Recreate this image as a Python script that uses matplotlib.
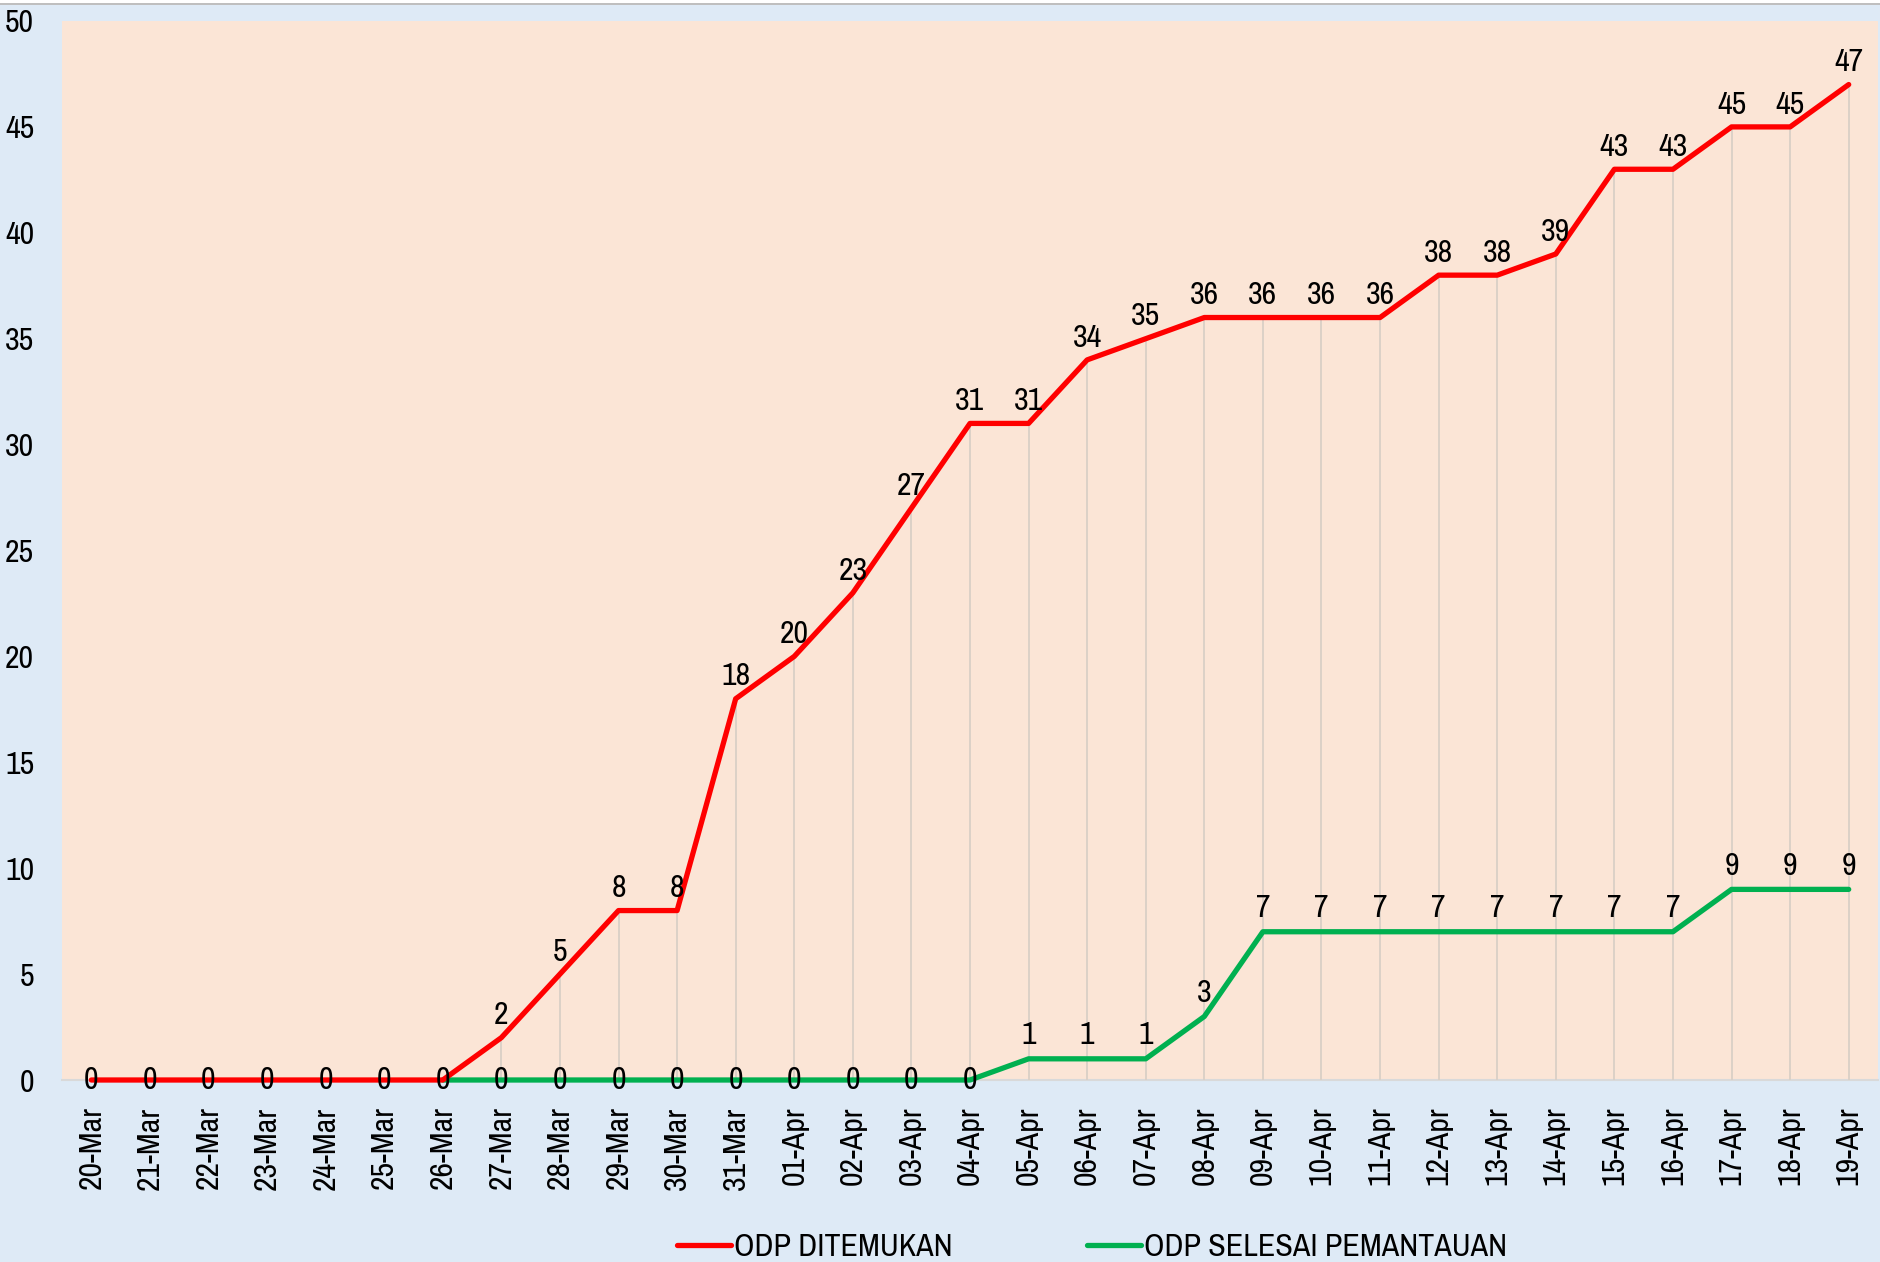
import matplotlib
matplotlib.use("Agg")
import matplotlib.pyplot as plt
import numpy as np
from matplotlib.patches import Rectangle

plt.rcParams['font.family'] = ['Archivo Narrow', 'Roboto Condensed', 'DejaVu Sans']

# tanggal
labels = ['20-Mar', '21-Mar', '22-Mar', '23-Mar', '24-Mar', '25-Mar', '26-Mar', '27-Mar',
          '28-Mar', '29-Mar', '30-Mar', '31-Mar', '01-Apr', '02-Apr', '03-Apr', '04-Apr',
          '05-Apr', '06-Apr', '07-Apr', '08-Apr', '09-Apr', '10-Apr', '11-Apr', '12-Apr',
          '13-Apr', '14-Apr', '15-Apr', '16-Apr', '17-Apr', '18-Apr', '19-Apr']
# ODP ditemukan
ditemukan = [0, 0, 0, 0, 0, 0, 0, 2, 5, 8, 8, 18, 20, 23, 27, 31,
             31, 34, 35, 36, 36, 36, 36, 38, 38, 39, 43, 43, 45, 45, 47]
# ODP selesai pemantauan (mulai 26-Mar)
selesai = [None, None, None, None, None, None, 0, 0, 0, 0, 0, 0, 0, 0, 0, 0,
           1, 1, 1, 3, 7, 7, 7, 7, 7, 7, 7, 7, 9, 9, 9]

x = np.arange(len(labels))
red = '#FF0000'
green = '#00B050'

fig = plt.figure(figsize=(18.8, 12.62), dpi=100, facecolor='#DEEAF6')
ax = fig.add_axes([62 / 1880, (1262 - 1080) / 1262, (1878 - 62) / 1880, (1080 - 21) / 1262])
ax.set_facecolor('#FBE5D6')

# garis bantu vertikal dari titik ke sumbu
ax.vlines(x, 0, ditemukan, color='#D9CFC6', lw=1.3, zorder=1)

ax.plot(x, ditemukan, color=red, lw=3.8, solid_capstyle='round', zorder=3,
        label='ODP DITEMUKAN', clip_on=False)
gx = [i for i in x if selesai[i] is not None]
gy = [selesai[i] for i in gx]
ax.plot(gx, gy, color=green, lw=3.8, solid_capstyle='round', zorder=2,
        label='ODP SELESAI PEMANTAUAN', clip_on=False)

# label data
for i, v in zip(x, ditemukan):
    if v == 0:
        ax.annotate(str(v), (i, v), ha='center', va='center', fontsize=23, zorder=4)
    else:
        ax.annotate(str(v), (i, v), xytext=(0, 6), textcoords='offset points',
                    ha='center', va='bottom', fontsize=23, zorder=4)
for i, v in zip(gx, gy):
    if v == 0:
        if i == 6:
            continue
        ax.annotate(str(v), (i, v), ha='center', va='center', fontsize=23, zorder=4)
    else:
        ax.annotate(str(v), (i, v), xytext=(0, 7), textcoords='offset points',
                    ha='center', va='bottom', fontsize=23, zorder=4)

ax.set_xlim(-0.5, len(labels) - 0.5)
ax.set_ylim(0, 50)
ax.set_yticks(np.arange(0, 51, 5))
ax.tick_params(axis='y', length=0, pad=20, labelsize=23)
ax.set_xticks(x)
ax.set_xticklabels(labels, rotation=90)
ax.tick_params(axis='x', length=0, pad=19, labelsize=23)

for s in ['top', 'right', 'left']:
    ax.spines[s].set_visible(False)
ax.spines['bottom'].set_color('#D9D9D9')
ax.spines['bottom'].set_linewidth(1.5)
ax.spines['bottom'].set_zorder(0.5)

leg = ax.legend(loc='center', bbox_to_anchor=(1092 / 1880, 1 - 1247 / 1262),
                bbox_transform=fig.transFigure, ncol=2, frameon=False, fontsize=23,
                handlelength=1.7, handletextpad=0.1, columnspacing=4.2)

# garis tepi atas
fig.patches.append(Rectangle((0, 1 - 3 / 1262), 1, 3 / 1262, transform=fig.transFigure,
                             facecolor='white', edgecolor='none'))
fig.patches.append(Rectangle((0, 1 - 5 / 1262), 1, 2 / 1262, transform=fig.transFigure,
                             facecolor='#BFBFBF', edgecolor='none'))

fig.savefig('out.png', dpi=100, facecolor=fig.get_facecolor())
